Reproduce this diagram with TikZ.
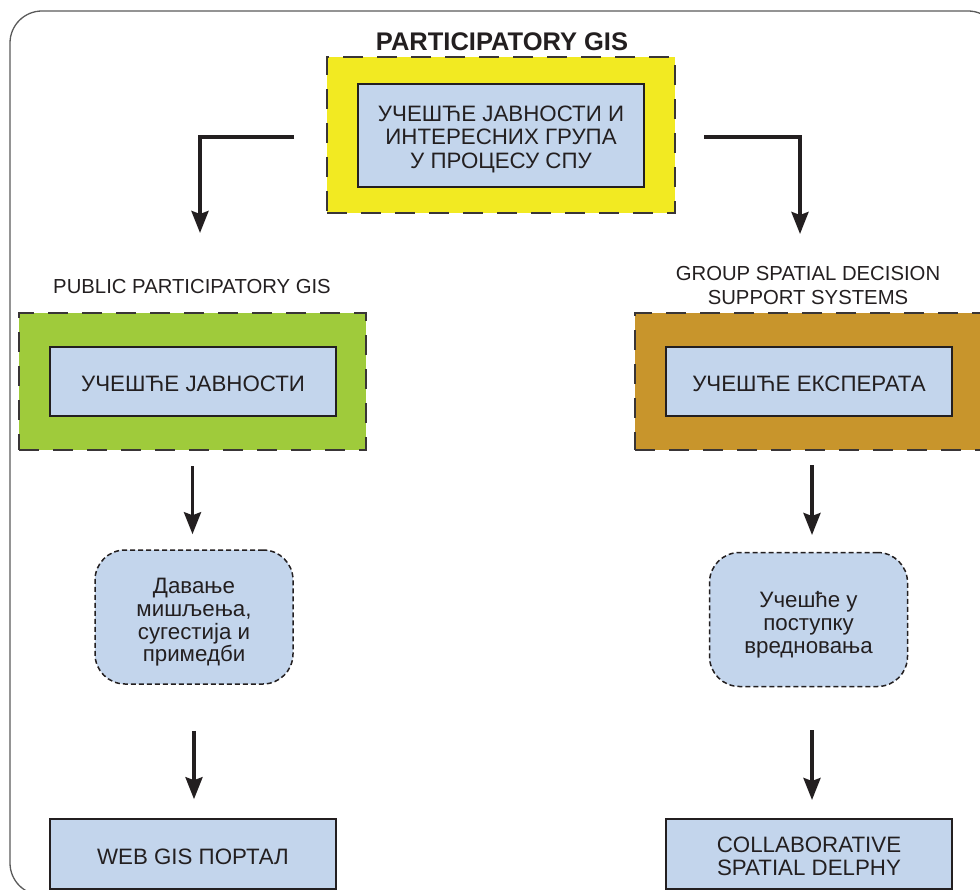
\documentclass[tikz,border=0pt]{standalone}
\usepackage{fontspec}
\setmainfont{Liberation Sans}
\usetikzlibrary{arrows.meta}
\definecolor{ink}{HTML}{231F20}
\definecolor{paleblue}{HTML}{C3D5EC}
\definecolor{gisyellow}{HTML}{F2EA22}
\definecolor{gisgreen}{HTML}{9FCB3B}
\definecolor{gisbrown}{HTML}{C8952C}
\definecolor{framegray}{HTML}{5A5A5A}
% strut on the first line that moves a centred text block down by #1
\newcommand\sinkby[1]{\rule{0pt}{\dimexpr16.5pt+#1*2\relax}}
\tikzset{
  every node/.style={text=ink, font=\fontsize{22.3}{23.5}\selectfont, align=center, inner sep=0pt},
  outerbox/.style={draw=ink!90, line width=2pt, dash pattern=on 20pt off 14pt, minimum width=#1},
  innerbox/.style={draw=ink, line width=1.6pt, fill=paleblue},
  softbox/.style={draw=ink, line width=1.5pt, fill=paleblue, dash pattern=on 5pt off 3pt,
    rounded corners=30pt, minimum width=198pt, minimum height=134pt,
    font=\fontsize{22.3}{22.7}\selectfont},
  arr/.style={draw=ink, line width=3.5pt, -{Stealth[length=22pt,width=17pt,inset=3pt]}},
  caption/.style={font=\fontsize{20.3}{24}\selectfont},
}
\begin{document}
\begin{tikzpicture}[x=1pt,y=-1pt]
\useasboundingbox (0,0) rectangle (980,890);
% outer frame
\draw[framegray, line width=1.3pt, rounded corners=32pt] (10,11) rectangle (1000,895);

% title and top box
\node[font=\fontsize{25.5}{28}\selectfont\bfseries] (title) at (502,42) {PARTICIPATORY GIS};
\node[outerbox=348pt, fill=gisyellow, minimum height=156pt] (top) at (501,135) {};
\node[innerbox, minimum width=286pt, minimum height=103pt] (topin) at (501,135.5)
  {\sinkby{3pt}УЧЕШЋЕ ЈАВНОСТИ И\\ИНТЕРЕСНИХ ГРУПА\\У ПРОЦЕСУ СПУ};

% middle row
\node[caption] (ppgis) at (192,287) {PUBLIC PARTICIPATORY GIS};
\node[caption] (gsdss) at (808,286) {GROUP SPATIAL DECISION\\SUPPORT SYSTEMS};
\node[outerbox=347pt, fill=gisgreen, minimum height=137pt] (green) at (192.5,381.5) {};
\node[innerbox, minimum width=286pt, minimum height=69pt] (greenin) at (193,381.5) {\sinkby{2pt}УЧЕШЋЕ ЈАВНОСТИ};
\node[outerbox=348pt, fill=gisbrown, minimum height=137pt] (brown) at (809,381.5) {};
\node[innerbox, minimum width=286pt, minimum height=69pt] (brownin) at (809,381.5) {\sinkby{2pt}УЧЕШЋЕ ЕКСПЕРАТА};

% rounded activity boxes
\node[softbox] (opinion) at (194,617) {\sinkby{5pt}Давање\\мишљења,\\сугестија и\\примедби};
\node[softbox] (evaluate) at (808.5,619.5) {\sinkby{5pt}Учешће у\\поступку\\вредновања};

% bottom boxes
\node[innerbox, minimum width=286pt, minimum height=70pt] (portal) at (193,854) {\sinkby{2pt}WEB GIS ПОРТАЛ};
\node[innerbox, minimum width=286pt, minimum height=70pt] (delphy) at (809,854) {\sinkby{2pt}COLLABORATIVE\\SPATIAL DELPHY};

% branch arrows from the top box
\coordinate (lstart) at ([xshift=-32pt]top.west |- 0,137);
\coordinate (rstart) at ([xshift=28pt]top.east |- 0,137);
\coordinate (lend) at (200,233);
\coordinate (rend) at (800,234);
\draw[arr] (lstart) -| (lend);
\draw[arr] (rstart) -| (rend);

% vertical arrows
\draw[arr, shorten <=15pt, shorten >=15pt] (green.south) -- (green.south |- opinion.north);
\draw[arr, shorten <=15pt, shorten >=18pt] (812,450) -- (812,553);
\draw[arr, shorten <=46pt, shorten >=19pt] (opinion.south) -- (opinion.south |- portal.north);
\draw[arr, shorten <=44pt, shorten >=19pt] (812,686) -- (812,819);
\end{tikzpicture}
\end{document}
